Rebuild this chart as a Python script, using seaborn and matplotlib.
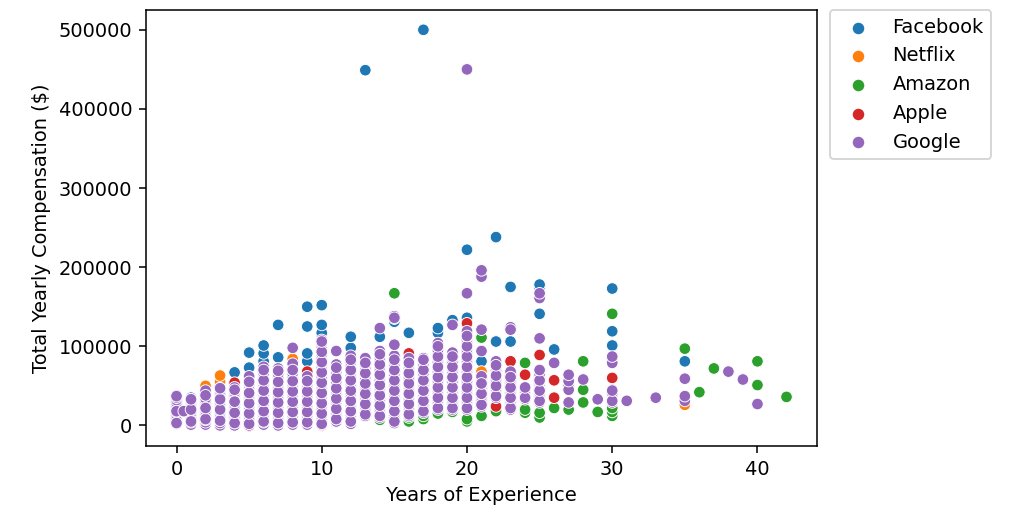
import numpy as np
import pandas as pd
import seaborn as sns
import matplotlib.pyplot as plt

# Werte: Jahre -> Gesamtverguetung (in Tausend $)
companies = ["Facebook", "Netflix", "Amazon", "Apple", "Google"]

facebook_pts = {
    1: [35], 4: [67], 5: [73, 92], 6: [81, 91, 101], 7: [86, 127],
    9: [81, 91, 125, 150], 10: [108, 113, 117, 127, 152], 12: [98, 112],
    13: [449], 14: [112], 15: [131], 16: [117], 17: [500], 18: [117, 123],
    19: [133], 20: [136, 222], 21: [81], 22: [106, 238], 23: [106, 175],
    25: [141, 174, 178], 26: [96], 30: [101, 119, 173], 35: [81],
}

netflix_pts = {
    2: [50], 3: [55, 63], 4: [2], 5: [-1], 8: [84], 21: [68], 35: [26],
}

amazon_pts = {
    11: [5], 12: [4], 14: [7], 15: [5, 167], 16: [5, 10], 17: [8, 12],
    18: [15, 79], 19: [17], 20: [5, 8], 21: [12, 111], 22: [18], 23: [25],
    24: [16, 20, 79], 25: [10, 16], 26: [22], 27: [20], 28: [29, 45, 81],
    29: [17], 30: [12, 17, 22, 141], 35: [97], 36: [42], 37: [72],
    40: [51, 81], 42: [36],
}

apple_pts = {
    4: [1, 54], 9: [68], 10: [0], 16: [91], 18: [73], 20: [129],
    22: [24, 54], 23: [24, 81], 24: [64], 25: [89], 26: [35, 57], 30: [60],
}

# Google: dichte (blasse) Saeulen und einzelne deutlich sichtbare Punkte
google_dense = {
    0: [2, 5, 8, 11, 14, 17, 20, 23, 26, 29, 32, 35, 38],
    1: [1, 4, 7, 10, 13, 16, 19, 22, 25, 28, 31, 33],
    2: [1, 4, 7, 10, 13, 16, 19, 22, 25, 28, 31, 34, 38, 41, 44],
    3: [0, 3, 6, 9, 12, 15, 18, 21, 24, 27, 30, 33, 36, 40, 44, 47],
    4: [0, 3, 6, 9, 12, 15, 18, 21, 24, 27, 30, 33, 36, 39, 42, 45, 48],
    5: [0, 3, 6, 9, 12, 15, 18, 21, 24, 27, 30, 33, 36, 39, 42, 45, 48, 51,
        54, 57, 62],
    6: [1, 4, 7, 10, 13, 16, 19, 22, 25, 28, 31, 34, 37, 40, 43, 46, 49, 52,
        55, 58, 62, 66, 70, 74],
    7: [0, 3, 6, 9, 12, 15, 18, 21, 24, 27, 30, 33, 36, 39, 42, 45, 48, 51,
        54, 57, 61, 65, 69, 72],
    8: [1, 4, 7, 10, 13, 16, 19, 22, 25, 28, 31, 34, 37, 40, 43, 46, 49, 52,
        55, 58, 62, 66, 70, 74, 78],
    9: [1, 4, 7, 10, 13, 16, 19, 22, 25, 28, 31, 34, 37, 40, 43, 46, 49, 52,
        55, 58, 62],
    10: [1, 4, 7, 10, 13, 16, 19, 22, 25, 28, 31, 34, 37, 40, 43, 46, 49, 52,
         55, 58, 62, 66, 70, 74, 78, 82, 86, 90, 95, 100, 104, 108],
    11: [5, 8, 11, 14, 17, 20, 23, 26, 29, 32, 35, 38, 41, 44, 47, 50, 53,
         56, 60, 64, 68, 72, 77],
    12: [2, 5, 8, 11, 14, 17, 20, 23, 26, 29, 32, 35, 38, 41, 44, 47, 50,
         53, 56, 60, 64, 68, 72, 76, 80, 84, 88],
    13: [12, 15, 18, 21, 24, 27, 30, 33, 36, 39, 42, 45, 48, 51, 54, 57, 61,
         65, 69, 73, 77, 81, 85],
    14: [10, 13, 16, 19, 22, 25, 28, 31, 34, 37, 40, 43, 46, 49, 52, 55, 58,
         62, 66, 70, 74, 78, 82, 86, 90, 94],
    15: [3, 6, 9, 12, 15, 18, 21, 24, 27, 30, 33, 36, 39, 42, 45, 48, 51,
         54, 57, 61, 65, 69, 73, 77, 81, 85, 88, 135, 138],
    16: [12, 15, 18, 21, 24, 27, 30, 33, 36, 39, 42, 45, 48, 51, 54, 57, 61,
         65, 69, 73, 77, 81, 85],
    17: [16, 19, 22, 25, 28, 31, 34, 37, 40, 43, 46, 49, 52, 55, 58, 62, 66,
         70, 74, 78, 82, 85],
    18: [20, 23, 26, 29, 32, 35, 38, 41, 44, 47, 50, 53, 56, 60, 64, 68, 72,
         76, 80, 85, 90, 95, 100, 104],
    19: [20, 23, 26, 29, 32, 35, 38, 41, 44, 47, 50, 53, 56, 60, 64, 68, 72,
         76, 80, 85, 92],
    20: [20, 23, 26, 29, 32, 35, 38, 41, 44, 47, 50, 53, 56, 60, 64, 68, 72,
         76, 80, 84, 88, 92, 96, 100, 104, 108, 112, 116, 119],
    21: [24, 27, 30, 34, 37, 40, 43, 46, 49, 52, 55, 58, 62],
    22: [35, 38, 41, 44, 47, 50, 54, 58, 62, 66, 70, 74, 78, 81],
    23: [20, 24, 28, 31, 34, 37, 40, 43, 46, 49, 52, 55, 58, 61, 64, 68, 124],
    24: [33, 36, 39, 42, 45, 48],
    25: [29, 32, 35, 38, 41, 44, 47, 50, 53, 56, 59, 62, 65, 70],
    27: [45, 48, 51, 56, 60],
    30: [29, 32, 35, 38, 41, 45, 83],
}

google_solid = {
    0: [3, 18, 37], 0.5: [18], 1: [5, 20, 33], 2: [8, 22, 38],
    3: [6, 20, 33, 47], 4: [3, 16, 30, 45], 5: [2, 15, 28, 41, 55],
    6: [5, 18, 31, 44, 57, 70], 7: [3, 16, 29, 42, 55, 69],
    8: [4, 17, 30, 43, 56, 70, 98], 9: [4, 17, 30, 43, 56],
    10: [2, 15, 28, 41, 54, 67, 80, 93, 106],
    11: [8, 21, 34, 47, 60, 73, 94], 12: [5, 18, 31, 44, 57, 70, 83],
    13: [14, 27, 40, 53, 66, 79], 14: [12, 25, 38, 51, 64, 77, 90, 123],
    15: [5, 18, 31, 44, 57, 70, 83, 102, 136],
    16: [14, 27, 40, 53, 66, 79], 17: [18, 31, 44, 57, 70, 83],
    18: [22, 35, 48, 61, 74, 87, 100], 19: [22, 35, 48, 61, 74, 87, 127],
    20: [22, 35, 48, 61, 74, 87, 100, 113, 167, 450],
    21: [26, 40, 53, 94, 121, 188, 196], 22: [37, 50, 63, 76],
    23: [22, 35, 48, 61, 121], 24: [35, 48],
    25: [31, 44, 57, 70, 110, 161, 167], 26: [79], 27: [29, 45, 56, 64],
    28: [58], 29: [33], 30: [31, 44, 79, 87], 31: [31], 33: [35],
    35: [31, 37, 59], 38: [68], 39: [58], 40: [27],
}

# Tabelle fuer seaborn aufbauen (Reihenfolge = Zeichenreihenfolge)
groups = [("Facebook", facebook_pts), ("Netflix", netflix_pts),
          ("Amazon", amazon_pts), ("Apple", apple_pts),
          ("Google", google_dense), ("Google", google_solid)]
rows = []
for name, pts in groups:
    for yrs, vals in pts.items():
        for v in vals:
            rows.append((name, yrs, v * 1000))
df = pd.DataFrame(rows, columns=["company", "yearsofexperience",
                                 "totalyearlycompensation"])

# Plot
dpi = 139.5
fig = plt.figure(figsize=(1034 / dpi, 524 / dpi), dpi=dpi)
ax = fig.add_axes([146 / 1034, 78 / 524, 671 / 1034, 436 / 524])
sns.scatterplot(data=df, x="yearsofexperience", y="totalyearlycompensation",
                hue="company", hue_order=companies, palette="tab10", ax=ax)
ax.set_xlabel("Years of Experience")
ax.set_ylabel("Total Yearly Compensation ($)")

# Legende mit Scatter-Handles (wie aeltere seaborn-Versionen)
colors = sns.color_palette("tab10", len(companies))
handles = [ax.scatter([], [], s=45, color=c, edgecolor="w", linewidth=0.75)
           for c in colors]
ax.legend(handles, companies, bbox_to_anchor=(1.02, 1), loc="upper left",
          borderaxespad=0, scatterpoints=1)
fig.savefig("out.png", dpi=dpi)
